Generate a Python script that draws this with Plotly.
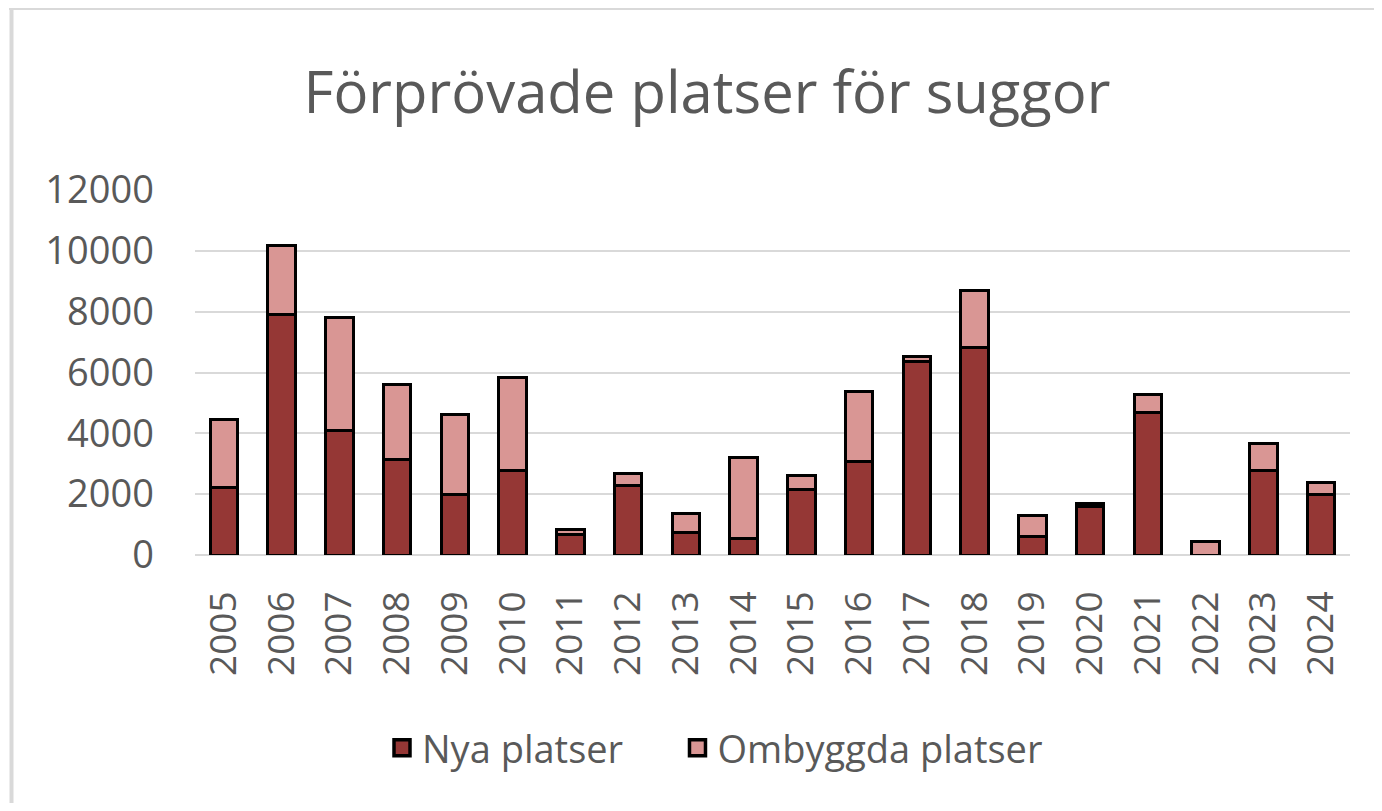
import plotly.graph_objects as go

years = [str(y) for y in range(2005, 2025)]
nya_platser = [2210, 7920, 4080, 3150, 1980, 2770, 680, 2300, 750, 530, 2140, 3070,
               6360, 6830, 600, 1600, 4680, 0, 2780, 1980]
ombyggda_platser = [2230, 2240, 3740, 2440, 2630, 3060, 150, 390, 620, 2680, 460, 2300,
                    160, 1850, 690, 80, 610, 450, 890, 400]
series_names = ["Nya platser", "Ombyggda platser"]

OFF = 8  # page body margin
W, H = 1382 - 2 * OFF, 811 - 2 * OFF
L, R, T, B = 195 - OFF, 1382 - 1350 - OFF, 190 - OFF, 811 - 555 - OFF
pw, ph = W - L - R, H - T - B

def px(x):
    return (x - OFF - L) / pw

def py(y):
    return (H - B - (y - OFF)) / ph

grey = "#595959"
font_fam = "Open Sans, Lato, DejaVu Sans, sans-serif"
c_nya, c_omb = "#953735", "#D99694"

fig = go.Figure()
fig.add_trace(go.Bar(x=years, y=nya_platser, name=series_names[0], showlegend=False,
                     marker=dict(color=c_nya, line=dict(color="black", width=3))))
fig.add_trace(go.Bar(x=years, y=ombyggda_platser, name=series_names[1], showlegend=False,
                     marker=dict(color=c_omb, line=dict(color="black", width=3))))
legend_labels = [series_names[0] + "\u00a0" * 5, series_names[1]]
for name, col in zip(legend_labels, [c_nya, c_omb]):
    fig.add_trace(go.Scatter(x=[None], y=[None], mode="markers", name=name,
                             marker=dict(symbol="square", size=22, color=col,
                                         line=dict(color="black", width=3.5))))

fig.update_layout(
    width=W, height=H,
    barmode="stack", bargap=0.52,
    margin=dict(l=L, r=R, t=T, b=B, autoexpand=False),
    paper_bgcolor="white", plot_bgcolor="white",
    font=dict(family=font_fam, color=grey),
    title=dict(text="Förprövade platser för suggor", x=(707 - OFF) / W, y=1 - (93 - OFF) / H,
               xanchor="center", yanchor="middle",
               font=dict(size=58, color=grey, family=font_fam)),
    xaxis=dict(tickangle=-90, tickfont=dict(size=37, color=grey), showgrid=False,
               showline=False, ticks="", ticklabelstandoff=28),
    yaxis=dict(range=[0, 12000], dtick=2000, tickformat="d", tickfont=dict(size=38, color=grey),
               showgrid=True, gridcolor="#D9D9D9", gridwidth=2, zeroline=True,
               zerolinecolor="#D9D9D9", zerolinewidth=2, showline=False, ticks="",
               ticklabelstandoff=40),
    legend=dict(orientation="h", x=px(715), y=py(748), xanchor="center", yanchor="middle",
                font=dict(size=38, color=grey), traceorder="normal", itemsizing="trace"),
    showlegend=True,
)

fig.add_shape(type="line", xref="paper", yref="paper", x0=px(9), x1=px(1390),
              y0=py(8), y1=py(8), line=dict(color="#D9D9D9", width=4))
fig.add_shape(type="line", xref="paper", yref="paper", x0=px(11.5), x1=px(11.5),
              y0=py(6), y1=py(820), line=dict(color="#D9D9D9", width=4))

fig.write_html("out.html")
